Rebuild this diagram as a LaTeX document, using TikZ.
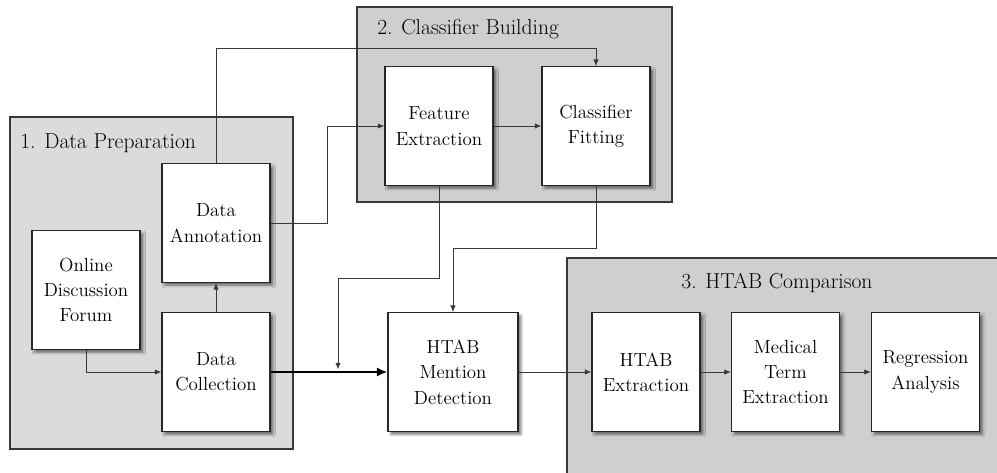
\documentclass[tikz,border=0pt]{standalone}
\usetikzlibrary{arrows.meta,shadows.blur}
\begin{document}
\begin{tikzpicture}[x=0.75pt,y=-0.75pt,
  panel/.style={draw=black!78, line width=0.85pt},
  stepbox/.style={draw=black!85, fill=white, line width=0.8pt,
    minimum width=81pt, minimum height=89pt, inner sep=2pt, align=center,
    font=\fontsize{14.2}{19}\selectfont, text=black,
    blur shadow={shadow xshift=2.2pt, shadow yshift=-2.2pt,
      shadow blur radius=2pt, shadow opacity=55}},
  title/.style={font=\fontsize{16.2}{19}\selectfont, text=black, inner sep=0pt},
  link/.style={draw=black!78, line width=0.6pt, -{Latex[length=5pt,width=4pt]}},
  mainlink/.style={draw=black, line width=2.2pt, -{Latex[length=8pt,width=7pt]}}]

\useasboundingbox (0,0) rectangle (997,472);

% stage panels
\draw[panel, fill=black!14] (10,117) rectangle (293,449);
\draw[panel, fill=black!19] (357,7) rectangle (672,202);
\draw[panel, fill=black!19] (567,258) rectangle (1005,480);

\node[title, anchor=west] (t1) at (20,143) {1. Data Preparation};
\node[title, anchor=west] (t2) at (377,29) {2. Classifier Building};
\node[title] (t3) at (777,283) {3. HTAB Comparison};

% process steps
\node[stepbox] (odf) at (86,290) {Online\\Discussion\\Forum};
\node[stepbox] (da)  at (216,223) {Data\\Annotation};
\node[stepbox] (dc)  at (216,372) {Data\\Collection};
\node[stepbox] (fe)  at (439,126) {Feature\\Extraction};
\node[stepbox] (cf)  at (596,126) {Classifier\\Fitting};
\node[stepbox, minimum width=97.5pt] (hmd) at (453,372) {HTAB\\Mention\\Detection};
\node[stepbox] (hx)  at (646,372) {HTAB\\Extraction};
\node[stepbox] (mte) at (785.5,372) {Medical\\Term\\Extraction};
\node[stepbox] (ra)  at (925.5,372) {Regression\\Analysis};

% routing helpers
\coordinate (topY) at (0,48);
\coordinate (jogX) at (327,0);
\coordinate (feY) at (0,278);
\coordinate (cfY) at (0,248);
\coordinate (merge) at (338,369.5);

% connectors
\draw[link] (odf.south) |- (dc.west);
\draw[link] (dc.north) -- (da.south);
\draw[link] (da.north) -- (da.north |- topY) -| (cf.north);
\draw[link] (da.east) -- (da.east -| jogX) |- (fe.west);
\draw[link] (fe.east) -- (cf.west);
\draw[mainlink] (dc.east) -- (hmd.west);
\draw[link] (fe.south) -- (fe.south |- feY) -| (merge);
\draw[link] (cf.south) -- (cf.south |- cfY) -| (hmd.north);
\draw[link] (hmd.east) -- (hx.west);
\draw[link] (hx.east) -- (mte.west);
\draw[link] (mte.east) -- (ra.west);
\end{tikzpicture}
\end{document}
